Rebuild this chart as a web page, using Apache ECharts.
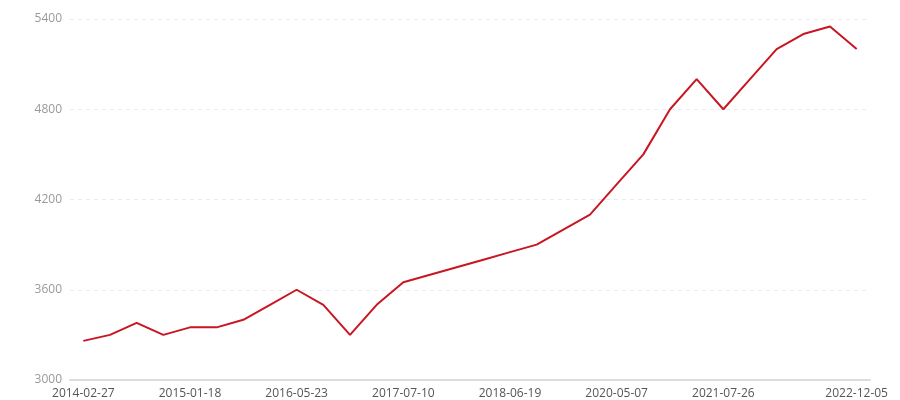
<!DOCTYPE html>
<html>
<head>
<meta charset="utf-8">
<script src="https://cdn.jsdelivr.net/npm/echarts@6/dist/echarts.min.js"></script>
<style>html,body{margin:0;padding:0;background:#fff}#c{width:900px;height:400px}</style>
</head>
<body>
<div id="c"></div>
<script>
var dates = ['2014-02-27','2014-05-12','2014-07-21','2014-10-09','2015-01-18','2015-05-06','2015-09-14','2016-01-25','2016-05-23','2016-08-30','2016-12-12','2017-03-27','2017-07-10','2017-10-09','2017-12-18','2018-03-26','2018-06-19','2018-12-03','2019-05-20','2019-11-11','2020-05-07','2020-08-24','2020-12-07','2021-03-29','2021-07-26','2021-11-08','2022-03-14','2022-06-20','2022-09-13','2022-12-05'];
var values = [3260,3300,3380,3300,3350,3350,3400,3500,3600,3500,3300,3500,3650,3700,3750,3800,3850,3900,4000,4100,4300,4500,4800,5000,4800,5000,5200,5300,5350,5200];
var shownLabels = [0,4,8,12,16,20,24,29];

var chart = echarts.init(document.getElementById('c'));
var showFn = function(i){ return shownLabels.indexOf(i) >= 0; };
chart.setOption({
  animation: false,
  grid: {left: 70, right: 30, top: 19, bottom: 20, containLabel: false},
  xAxis: {
    type: 'category',
    data: dates,
    boundaryGap: true,
    axisLine: {lineStyle: {color: '#dcdcdc', width: 2}},
    axisTick: {alignWithLabel: true, interval: showFn, lineStyle: {color: '#dcdcdc'}},
    axisLabel: {interval: showFn, color: '#555', fontSize: 12, fontFamily: 'Open Sans', margin: 8}
  },
  yAxis: {
    type: 'value',
    min: 3000, max: 5400, interval: 600,
    axisLine: {show: false},
    axisTick: {show: false},
    axisLabel: {color: '#999', fontSize: 12, fontFamily: 'Open Sans', margin: 8, formatter: function(v){ return String(v); }},
    splitLine: {lineStyle: {color: '#ebebeb', type: [4, 4]}}
  },
  series: [{
    type: 'line',
    data: values,
    showSymbol: false,
    symbol: 'none',
    lineStyle: {color: '#c81623', width: 2},
    itemStyle: {color: '#c81623'}
  }]
});
</script>
</body>
</html>
